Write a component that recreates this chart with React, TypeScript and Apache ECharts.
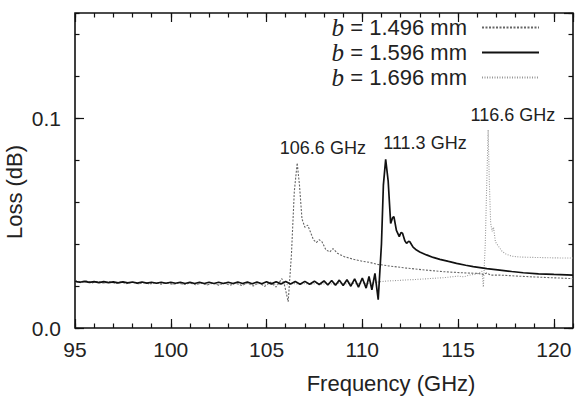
import React, { useEffect, useRef } from "react";
import * as echarts from "echarts";

const seriesNames = ["1.496", "1.596", "1.696"];

const curve1496: [number, number][] = [
  [95.0, 0.0225], [95.3, 0.022], [95.6, 0.0224], [95.9, 0.0216], [96.2, 0.0222], [96.5, 0.0214],
  [96.8, 0.022], [97.1, 0.0213], [97.4, 0.0219], [97.7, 0.0212], [98.0, 0.0218], [98.3, 0.0211],
  [98.6, 0.0217], [98.9, 0.021], [99.2, 0.0217], [99.5, 0.0209], [99.8, 0.0216], [100.1, 0.0208],
  [100.4, 0.0215], [100.7, 0.0207], [101.0, 0.0214], [101.3, 0.0206], [101.6, 0.0214], [101.9, 0.0205],
  [102.2, 0.0214], [102.5, 0.0204], [102.8, 0.0214], [103.1, 0.0203], [103.4, 0.0214], [103.7, 0.0202],
  [104.0, 0.0215], [104.3, 0.02], [104.6, 0.0216], [104.9, 0.0198], [105.2, 0.0218], [105.5, 0.0195],
  [105.8, 0.0235], [105.95, 0.02], [106.13, 0.0125], [106.3, 0.035], [106.45, 0.065], [106.6, 0.0786],
  [106.72, 0.068], [106.85, 0.052], [107.0, 0.048], [107.15, 0.049], [107.3, 0.0455], [107.45, 0.042],
  [107.6, 0.0407], [107.75, 0.042], [107.9, 0.041], [108.1, 0.0372], [108.3, 0.0362], [108.47, 0.0378],
  [108.7, 0.0356], [109.05, 0.034], [109.5, 0.0328], [110.0, 0.0318], [110.4, 0.0312], [110.8, 0.0303],
  [111.36, 0.0296], [112.33, 0.0285], [113.3, 0.0276], [114.26, 0.0268], [115.2, 0.0263], [116.0, 0.026],
  [116.35, 0.0255], [116.5, 0.0262], [116.7, 0.0252], [117.2, 0.0252], [118.1, 0.0247], [119.0, 0.0243],
  [120.0, 0.0239], [121.0, 0.0235],
];

const curve1596: [number, number][] = [
  [95.0, 0.0222], [95.25, 0.0218], [95.5, 0.0222], [95.75, 0.0217], [96.0, 0.0221], [96.25, 0.0216],
  [96.5, 0.0221], [96.75, 0.0216], [97.0, 0.022], [97.25, 0.0215], [97.5, 0.022], [97.75, 0.0215],
  [98.0, 0.0219], [98.25, 0.0214], [98.5, 0.0219], [98.75, 0.0214], [99.0, 0.0218], [99.25, 0.0213],
  [99.5, 0.0218], [99.75, 0.0213], [100.0, 0.0218], [100.25, 0.0213], [100.5, 0.0218], [100.75, 0.0212],
  [101.0, 0.0218], [101.25, 0.0212], [101.5, 0.0218], [101.75, 0.0212], [102.0, 0.0218], [102.25, 0.0212],
  [102.5, 0.0218], [102.75, 0.0212], [103.0, 0.0218], [103.25, 0.0212], [103.5, 0.0219], [103.75, 0.0212],
  [104.0, 0.0219], [104.25, 0.0211], [104.5, 0.0219], [104.75, 0.0211], [105.0, 0.022], [105.25, 0.021],
  [105.5, 0.022], [105.75, 0.021], [106.0, 0.0221], [106.25, 0.0209], [106.5, 0.0221], [106.75, 0.0208],
  [107.0, 0.0222], [107.25, 0.0208], [107.5, 0.0223], [107.75, 0.0207], [108.0, 0.0224], [108.2, 0.0205],
  [108.4, 0.0226], [108.6, 0.0204], [108.8, 0.0228], [109.0, 0.0202], [109.2, 0.023], [109.4, 0.0199],
  [109.6, 0.0234], [109.8, 0.0195], [110.0, 0.0238], [110.2, 0.019], [110.35, 0.0245], [110.5, 0.0182],
  [110.66, 0.026], [110.83, 0.0135], [111.0, 0.04], [111.1, 0.068], [111.22, 0.0803], [111.35, 0.07],
  [111.48, 0.0498], [111.58, 0.0525], [111.65, 0.053], [111.78, 0.0465], [111.93, 0.0435], [112.02, 0.0455],
  [112.1, 0.0451], [112.22, 0.0415], [112.31, 0.0403], [112.42, 0.0413], [112.48, 0.0411], [112.65, 0.0385],
  [112.83, 0.0371], [113.0, 0.0362], [113.35, 0.0348], [113.7, 0.0336], [114.05, 0.0327], [114.5, 0.0317],
  [114.92, 0.0308], [115.4, 0.0299], [115.79, 0.0292], [116.5, 0.0283], [117.18, 0.0276], [117.8, 0.0269],
  [118.4, 0.0263], [119.2, 0.0258], [120.0, 0.0255], [121.0, 0.0252],
];

const curve1696: [number, number][] = [
  [95.0, 0.022], [95.3, 0.0216], [95.6, 0.0221], [95.9, 0.0214], [96.2, 0.022], [96.5, 0.0213],
  [96.8, 0.0219], [97.1, 0.0212], [97.4, 0.0218], [97.7, 0.0211], [98.0, 0.0217], [98.3, 0.021],
  [98.6, 0.0216], [98.9, 0.0209], [99.2, 0.0216], [99.5, 0.0209], [99.8, 0.0215], [100.1, 0.0208],
  [100.4, 0.0214], [100.7, 0.0207], [101.0, 0.0214], [101.3, 0.0207], [101.6, 0.0213], [101.9, 0.0206],
  [102.2, 0.0213], [102.5, 0.0206], [102.8, 0.0213], [103.1, 0.0206], [103.4, 0.0212], [103.7, 0.0206],
  [104.0, 0.0212], [104.3, 0.0205], [104.6, 0.0212], [104.9, 0.0205], [105.2, 0.0212], [105.5, 0.0206],
  [105.8, 0.0211], [106.1, 0.0206], [106.4, 0.0212], [106.7, 0.0207], [107.0, 0.0212], [107.3, 0.0207],
  [107.6, 0.0213], [107.9, 0.0208], [108.2, 0.0213], [108.5, 0.0208], [108.8, 0.0214], [109.1, 0.0209],
  [109.4, 0.0214], [109.7, 0.021], [110.0, 0.0215], [110.3, 0.0211], [110.6, 0.0216], [110.9, 0.022],
  [111.3, 0.0224], [111.8, 0.0226], [112.3, 0.0229], [112.8, 0.0231], [113.3, 0.0234], [113.8, 0.0237],
  [114.3, 0.024], [114.7, 0.0244], [115.0, 0.0247], [115.3, 0.0244], [115.6, 0.0252], [115.9, 0.0256],
  [116.1, 0.0262], [116.25, 0.027], [116.32, 0.0195], [116.42, 0.04], [116.5, 0.07], [116.57, 0.0943],
  [116.63, 0.07], [116.7, 0.05], [116.78, 0.046], [116.85, 0.048], [116.95, 0.041], [117.1, 0.039],
  [117.3, 0.0365], [117.5, 0.0352], [117.8, 0.0342], [118.2, 0.0338], [119.0, 0.0336], [120.0, 0.0334],
  [121.0, 0.0333],
];

const peakLabels = ["106.6 GHz", "111.3 GHz", "116.6 GHz"];
const peakLabelFreq = [107.94, 113.27, 117.86];
const peakLabelLoss = [0.0857, 0.0881, 0.1014];

const xLabelText = "Frequency (GHz)";
const yLabelText = "Loss (dB)";

const FONT = "'Liberation Sans', Arial, Helvetica, sans-serif";

function xAxisDef(position: string, interval: number, len: number, labels: boolean) {
  return {
    type: "value",
    gridIndex: 0,
    position,
    min: 95,
    max: 121,
    interval,
    axisLine: { show: false, onZero: false },
    axisTick: { show: true, inside: true, length: len, lineStyle: { color: "#111", width: 1.2 } },
    axisLabel: {
      show: labels,
      fontSize: 21,
      fontFamily: FONT,
      color: "#222",
      margin: 11,
      showMaxLabel: false,
    },
    splitLine: { show: false },
  };
}

function yAxisDef(position: string, interval: number, len: number, labels: boolean) {
  return {
    type: "value",
    gridIndex: 0,
    position,
    min: 0,
    max: 0.15,
    interval,
    axisLine: { show: false, onZero: false },
    axisTick: { show: true, inside: true, length: len, lineStyle: { color: "#111", width: 1.2 } },
    axisLabel: {
      show: labels,
      fontSize: 21,
      fontFamily: FONT,
      color: "#222",
      margin: 14,
      showMaxLabel: false,
      formatter: (v: number) => v.toFixed(1),
    },
    splitLine: { show: false },
  };
}

export default function App() {
  const ref = useRef<HTMLDivElement>(null);
  useEffect(() => {
    const chart = echarts.init(ref.current!, null, { renderer: "svg" });
    const curves = [curve1496, curve1596, curve1696];
    const lineStyles = [
      { color: "#666", width: 1.1, type: [2, 1.5] },
      { color: "#111", width: 1.7, type: "solid" },
      { color: "#999", width: 1.1, type: [1, 1.5] },
    ];
    const series = seriesNames.map((name, i) => ({
      name,
      type: "line",
      xAxisIndex: 0,
      yAxisIndex: 0,
      data: curves[i],
      symbol: "none",
      showSymbol: false,
      smooth: false,
      lineStyle: lineStyles[i],
      itemStyle: { color: lineStyles[i].color },
      z: i === 1 ? 3 : 2,
      markPoint: {
        symbol: "circle",
        symbolSize: 0,
        itemStyle: { color: "transparent" },
        label: {
          show: true,
          position: "inside",
          formatter: "{b}",
          fontSize: 18,
          fontFamily: FONT,
          color: "#222",
        },
        data: [{ name: peakLabels[i], coord: [peakLabelFreq[i], peakLabelLoss[i]] }],
      },
    }));

    chart.setOption({
      animation: false,
      backgroundColor: "#fff",
      grid: {
        left: 75,
        right: 7,
        top: 13,
        bottom: 77,
        show: true,
        borderColor: "#111",
        borderWidth: 1.6,
        containLabel: false,
        outerBoundsMode: "none",
      },
      xAxis: [
        xAxisDef("bottom", 5, 9, true),
        xAxisDef("bottom", 1, 4.5, false),
        xAxisDef("top", 5, 9, false),
        xAxisDef("top", 1, 4.5, false),
      ],
      yAxis: [
        yAxisDef("left", 0.1, 9, true),
        yAxisDef("left", 0.02, 4.5, false),
        yAxisDef("right", 0.1, 9, false),
        yAxisDef("right", 0.02, 4.5, false),
      ],
      legend: {
        show: true,
        orient: "vertical",
        right: 35,
        top: 10,
        align: "right",
        itemWidth: 57,
        itemHeight: 14,
        itemGap: 0,
        itemStyle: { opacity: 0 },
        data: seriesNames,
        formatter: (name: string) => `{i|b}{t| = ${name} mm}{g|}`,
        textStyle: {
          color: "#222",
          fontSize: 22,
          fontFamily: FONT,
          rich: {
            i: { fontFamily: "'Liberation Serif', 'DejaVu Serif', serif", fontStyle: "italic", fontSize: 25, color: "#222", lineHeight: 22 },
            t: { fontFamily: FONT, fontSize: 22, color: "#222", lineHeight: 22 },
            g: { width: 10, lineHeight: 22 },
          },
        },
      },
      graphic: [
        {
          type: "text",
          x: 391,
          y: 383,
          style: {
            text: xLabelText,
            fontSize: 22,
            fontFamily: FONT,
            fill: "#222",
            textAlign: "center",
            textVerticalAlign: "middle",
          },
        },
        {
          type: "text",
          x: 14,
          y: 192,
          rotation: Math.PI / 2,
          style: {
            text: yLabelText,
            fontSize: 22,
            fontFamily: FONT,
            fill: "#222",
            textAlign: "center",
            textVerticalAlign: "middle",
          },
        },
      ],
      series,
    });
    return () => chart.dispose();
  }, []);
  return (
    <div
      ref={ref}
      style={{ width: 580, height: 405, position: "fixed", left: 0, top: 0 }}
    />
  );
}
